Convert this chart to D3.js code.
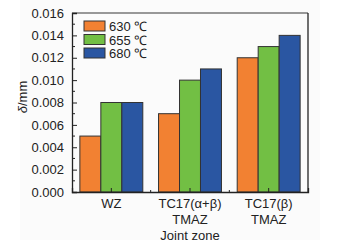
<!DOCTYPE html>
<html>
<head>
<meta charset="utf-8">
<script src="https://cdn.jsdelivr.net/npm/d3@7"></script>
<style>
  body { margin: 0; background: #fff; }
  svg { display: block; font-family: Arial, "Liberation Sans", sans-serif; }
</style>
</head>
<body>
<div id="chart"></div>
<script>
// data
const zones = [["WZ"], ["TC17(α+β)", "TMAZ"], ["TC17(β)", "TMAZ"]];
const temps = ["630 ℃", "655 ℃", "680 ℃"];
const colors = ["#f28132", "#72bf44", "#2a56a2"];
const values = [
  [0.005, 0.008, 0.008],
  [0.007, 0.010, 0.011],
  [0.012, 0.013, 0.014]
];
const yTicks = [0, 0.002, 0.004, 0.006, 0.008, 0.010, 0.012, 0.014, 0.016];

const width = 337, height = 246;
const margin = { top: 13, right: 29, bottom: 54, left: 72 };

const svg = d3.select('#chart').append('svg')
  .attr('width', width)
  .attr('height', height);

// faint figure background
svg.append('rect')
  .attr('x', 20).attr('y', 0)
  .attr('width', 300).attr('height', 240)
  .attr('fill', '#fbfbfb');

const x0 = d3.scaleBand()
  .domain(d3.range(zones.length))
  .range([margin.left, width - margin.right])
  .paddingInner(0.2)
  .paddingOuter(0.1);

const x1 = d3.scaleBand()
  .domain(d3.range(temps.length))
  .range([0, x0.bandwidth()]);

const y = d3.scaleLinear()
  .domain([0, 0.016])
  .range([height - margin.bottom, margin.top]);

// bars
const groups = svg.append('g')
  .selectAll('g')
  .data(values)
  .join('g')
  .attr('transform', (d, i) => `translate(${x0(i)},0)`);

groups.selectAll('rect')
  .data(d => d)
  .join('rect')
  .attr('x', (d, j) => x1(j))
  .attr('y', d => y(d))
  .attr('width', x1.bandwidth())
  .attr('height', d => y(0) - y(d))
  .attr('fill', (d, j) => colors[j])
  .attr('stroke', '#333')
  .attr('stroke-width', 1);

// frame
const pw = width - margin.right - margin.left;
svg.append('line')
  .attr('x1', margin.left).attr('x2', margin.left + pw)
  .attr('y1', margin.top).attr('y2', margin.top)
  .attr('stroke', '#777').attr('stroke-width', 1.3);
svg.append('line')
  .attr('x1', margin.left + pw).attr('x2', margin.left + pw)
  .attr('y1', margin.top).attr('y2', y(0))
  .attr('stroke', '#222').attr('stroke-width', 1.3);

// y axis
const yAxis = svg.append('g')
  .attr('transform', `translate(${margin.left},0)`)
  .call(d3.axisLeft(y).tickValues(yTicks).tickFormat(d3.format('.3f')).tickSize(-5).tickPadding(8));
yAxis.select('.domain').attr('stroke', '#222').attr('stroke-width', 1.3);
yAxis.selectAll('.tick line').attr('stroke', '#222');
yAxis.selectAll('text').attr('font-size', 13).attr('fill', '#222')
  .attr('font-family', 'Arial, "Liberation Sans", sans-serif');

// minor y ticks
const minor = d3.range(0.001, 0.016, 0.002);
svg.append('g').selectAll('line')
  .data(minor)
  .join('line')
  .attr('x1', margin.left).attr('x2', margin.left + 3)
  .attr('y1', d => y(d)).attr('y2', d => y(d))
  .attr('stroke', '#222');

// x axis
const xAxis = svg.append('g')
  .attr('transform', `translate(0,${y(0)})`)
  .call(d3.axisBottom(x0).tickSize(-4).tickFormat(''));
xAxis.select('.domain').attr('stroke', '#222').attr('stroke-width', 1.3);
xAxis.selectAll('.tick line').attr('stroke', '#222');

// minor x ticks between groups
const step = x0.step();
svg.append('g').selectAll('line')
  .data([1, 2])
  .join('line')
  .attr('x1', i => x0(i) + x0.bandwidth() / 2 - step / 2)
  .attr('x2', i => x0(i) + x0.bandwidth() / 2 - step / 2)
  .attr('y1', y(0)).attr('y2', y(0) - 2)
  .attr('stroke', '#222');

// x category labels
zones.forEach((lines, i) => {
  const t = svg.append('text')
    .attr('x', x0(i) + x0.bandwidth() / 2)
    .attr('y', y(0) + 16)
    .attr('text-anchor', 'middle')
    .attr('font-size', 13)
    .attr('fill', '#222');
  lines.forEach((s, k) => {
    t.append('tspan')
      .attr('x', x0(i) + x0.bandwidth() / 2)
      .attr('dy', k === 0 ? 0 : 16)
      .text(s);
  });
});

// axis titles
svg.append('text')
  .attr('x', margin.left + pw / 2)
  .attr('y', 240)
  .attr('text-anchor', 'middle')
  .attr('font-size', 13)
  .attr('fill', '#222')
  .text('Joint zone');

svg.append('text')
  .attr('transform', 'translate(27,97) rotate(-90)')
  .attr('text-anchor', 'middle')
  .attr('font-size', 13)
  .attr('fill', '#222')
  .html('<tspan font-style="italic">δ</tspan>/mm');

// legend
const legend = svg.append('g')
  .attr('transform', `translate(${margin.left + 12},${margin.top + 8})`);
temps.forEach((t, i) => {
  legend.append('rect')
    .attr('x', 0).attr('y', i * 13.5)
    .attr('width', 21).attr('height', 10)
    .attr('fill', colors[i])
    .attr('stroke', '#333');
  legend.append('text')
    .attr('x', 25).attr('y', i * 13.5 + 10)
    .attr('font-size', 13)
    .attr('fill', '#222')
    .text(t);
});
</script>
</body>
</html>
